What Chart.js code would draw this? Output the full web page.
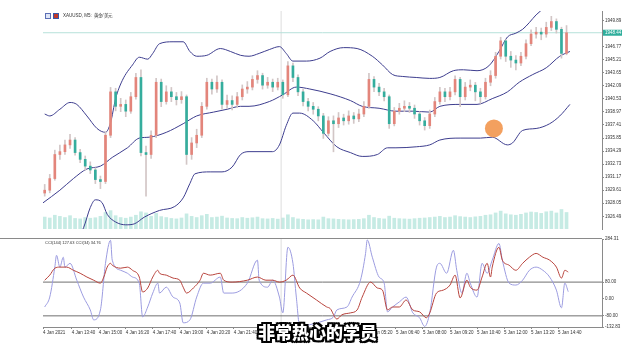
<!DOCTYPE html>
<html lang="zh-CN">
<head>
<meta charset="utf-8">
<title>XAUUSD, M5</title>
<script src="https://cdn.jsdelivr.net/npm/chart.js@4.4.1/dist/chart.umd.min.js"></script>
<style>
    html, body { margin: 0; padding: 0; background: #ffffff; }
    body { position: relative; width: 640px; height: 360px; overflow: hidden; font-family: "Liberation Sans", Arial, sans-serif; }
    .panel { position: absolute; left: 0; width: 640px; }
    #panelPrecio { top: 0; height: 238px; }
    #panelCci { top: 228px; height: 132px; }
    #titulo { position: absolute; left: 45px; top: 13px; font-size: 4.5px; line-height: 6px; color: #333; display: flex; align-items: center; gap: 2px; white-space: nowrap; }
    .icono { display: inline-block; width: 4px; height: 4px; border: 1px solid #5b6fb5; background: #dfe6f7; }
    .icono.rojo { background: #c0392b; border-color: #3b57a6; margin-right: 2px; }
    #tituloCci { position: absolute; left: 45px; top: 240px; font-size: 4px; line-height: 5px; color: #333; white-space: nowrap; }
    #subtitulo {
        position: absolute; left: 258px; top: 322px;
        font-family: "Noto Sans CJK SC", sans-serif; font-weight: 900; font-size: 17px; line-height: 20px;
        color: #ffffff; white-space: nowrap;
        text-shadow: -2px -2px 0 #000, 2px -2px 0 #000, -2px 2px 0 #000, 2px 2px 0 #000,
                     0 -2px 0 #000, 0 2px 0 #000, -2px 0 0 #000, 2px 0 0 #000;
    }
</style>
</head>
<body>
<div class="panel" id="panelPrecio"><canvas id="graficoPrecio"></canvas></div>
<div class="panel" id="panelCci"><canvas id="graficoCci"></canvas></div>
<div id="titulo"><span class="icono"></span><span class="icono rojo"></span><span>XAUUSD, M5:&nbsp;&nbsp;黄金/美元</span></div>
<div id="tituloCci">CCI(144) 127.63 CCI(34) 34.76</div>
<div id="subtitulo">非常热心的学员</div>
<script>
// velas de 15 minutos (3 barras M5 cada una), apertura = cierre anterior
const aperturaInicial = 1929.27;

const cierres = [
    1929.61, 1931.00, 1933.88, 1934.22, 1935.03, 1935.61, 1934.11, 1933.30, 1932.49, 1932.03,
    1930.88, 1930.65, 1936.18, 1941.37, 1939.64, 1939.87, 1939.06, 1940.79, 1943.09, 1934.11,
    1933.88, 1936.18, 1942.52, 1940.21, 1941.37, 1940.79, 1940.44, 1940.79, 1933.88, 1935.26,
    1936.18, 1939.64, 1942.52, 1941.71, 1942.52, 1939.87, 1940.33, 1939.87, 1940.79, 1941.71,
    1941.94, 1942.86, 1943.32, 1942.17, 1942.52, 1941.94, 1942.52, 1941.02, 1944.48, 1943.09,
    1941.37, 1940.21, 1939.64, 1939.29, 1938.49, 1936.41, 1937.91, 1937.56, 1938.25, 1937.91,
    1938.49, 1938.14, 1938.72, 1939.64, 1942.86, 1941.94, 1941.37, 1940.79, 1937.56, 1939.06,
    1939.41, 1939.64, 1939.41, 1938.72, 1937.91, 1937.33, 1938.72, 1940.21, 1941.37, 1940.79,
    1941.37, 1942.86, 1940.79, 1941.94, 1942.17, 1941.37, 1940.79, 1942.52, 1943.32, 1945.63,
    1947.47, 1945.63, 1945.17, 1944.82, 1945.63, 1947.13, 1948.28, 1948.51, 1948.28, 1949.08,
    1949.78, 1948.85, 1945.97, 1948.44
];

const maximos = [
    1930.3, 1931.5, 1934.4, 1935.0, 1935.6, 1936.3, 1935.9, 1934.5, 1933.7, 1933.0,
    1932.3, 1931.3, 1936.6, 1941.9, 1941.8, 1940.6, 1940.4, 1941.3, 1943.6, 1944.0,
    1934.9, 1936.7, 1943.0, 1942.9, 1942.1, 1941.9, 1941.3, 1941.4, 1941.0, 1935.9,
    1936.9, 1940.1, 1943.0, 1942.9, 1943.3, 1942.8, 1941.0, 1940.9, 1941.3, 1942.2,
    1942.6, 1943.3, 1943.9, 1943.6, 1943.1, 1942.9, 1943.0, 1942.8, 1945.0, 1944.8,
    1943.4, 1941.7, 1940.6, 1940.1, 1939.6, 1938.8, 1938.4, 1938.5, 1938.9, 1938.7,
    1939.1, 1938.9, 1939.3, 1940.2, 1943.6, 1943.2, 1942.4, 1941.8, 1941.0, 1939.5,
    1940.0, 1940.3, 1940.1, 1939.8, 1939.0, 1938.3, 1939.2, 1940.7, 1941.9, 1941.8,
    1941.9, 1943.3, 1943.1, 1942.5, 1942.8, 1942.5, 1941.8, 1943.0, 1943.9, 1946.1,
    1947.9, 1947.6, 1946.2, 1945.7, 1946.1, 1947.6, 1948.8, 1949.1, 1949.0, 1949.7,
    1950.4, 1950.1, 1949.1, 1949.3
];

const minimos = [
    1928.9, 1929.3, 1930.8, 1933.3, 1933.9, 1934.6, 1933.8, 1932.9, 1932.0, 1931.6,
    1930.4, 1929.8, 1930.4, 1935.9, 1939.1, 1939.0, 1938.4, 1938.8, 1940.5, 1933.7,
    1928.9, 1933.4, 1935.9, 1939.6, 1939.9, 1940.2, 1939.8, 1940.0, 1932.7, 1933.3,
    1934.7, 1935.9, 1939.3, 1941.1, 1941.3, 1939.3, 1939.4, 1939.2, 1939.5, 1940.4,
    1941.2, 1941.6, 1942.4, 1941.7, 1941.8, 1941.4, 1941.6, 1940.6, 1940.8, 1942.6,
    1940.9, 1939.7, 1939.1, 1938.7, 1937.9, 1935.8, 1936.1, 1934.2, 1937.1, 1937.4,
    1937.5, 1937.6, 1937.8, 1938.4, 1939.4, 1941.4, 1940.9, 1940.3, 1937.0, 1937.3,
    1938.7, 1939.0, 1938.9, 1938.2, 1937.4, 1936.8, 1937.0, 1938.4, 1939.9, 1940.2,
    1940.4, 1941.0, 1939.6, 1940.4, 1941.5, 1940.3, 1940.0, 1940.5, 1942.1, 1943.0,
    1945.3, 1945.0, 1944.3, 1944.0, 1944.5, 1945.3, 1946.9, 1947.8, 1947.6, 1947.9,
    1948.7, 1948.4, 1945.4, 1945.8
];

const volumenes = [
    52, 48, 60, 55, 50, 58, 46, 44, 50, 47,
    49, 55, 72, 80, 58, 50, 47, 52, 60, 75,
    70, 55, 68, 54, 50, 46, 44, 48, 66, 55,
    50, 58, 64, 50, 52, 56, 48, 46, 45, 50,
    47, 49, 52, 45, 44, 46, 43, 48, 62, 50,
    44, 42, 40, 41, 40, 52, 45, 44, 42, 41,
    40, 41, 42, 45, 60, 50, 46, 44, 56, 47,
    45, 44, 43, 45, 47, 48, 50, 52, 55, 50,
    52, 58, 54, 52, 50, 53, 55, 60, 62, 70,
    78, 66, 62, 60, 64, 70, 74, 72, 68, 75,
    78, 70, 85, 72
];

// Bandas de Bollinger (tiempo en barras M5)
const tiemposBandaSuperior = [1, 4, 10, 16, 20, 26, 32, 37, 40, 43, 47, 53, 57, 62, 65, 69, 77, 83, 87, 91, 97, 105, 111, 117, 122, 128, 134, 140, 144, 148, 156, 164, 170, 178, 186, 195, 201, 207, 213, 221, 229, 235, 243, 249, 257, 264, 270, 275, 280, 284, 288, 292, 297, 303, 311];
const bandaSuperior = [1938.72, 1938.49, 1939.29, 1940.10, 1939.87, 1938.49, 1936.99, 1936.53, 1937.68, 1940.56, 1942.75, 1944.59, 1945.51, 1945.28, 1945.97, 1947.13, 1947.36, 1947.36, 1946.20, 1945.63, 1945.74, 1946.55, 1946.20, 1945.74, 1945.63, 1945.97, 1946.43, 1946.78, 1945.97, 1945.05, 1945.05, 1945.40, 1946.20, 1946.66, 1946.55, 1945.63, 1944.59, 1943.44, 1943.21, 1943.09, 1942.98, 1943.09, 1943.90, 1944.01, 1943.90, 1944.48, 1946.20, 1947.93, 1948.39, 1948.85, 1949.66, 1950.58, 1951.39, 1951.96, 1952.50];

const tiemposBandaMedia = [0, 10, 18, 26, 34, 41, 50, 57, 63, 73, 83, 91, 101, 109, 117, 122, 134, 142, 150, 158, 170, 182, 189, 199, 209, 219, 229, 235, 247, 257, 266, 275, 282, 290, 298, 306, 312];
const bandaMedia = [1928.10, 1929.61, 1931.00, 1932.15, 1932.49, 1933.53, 1934.68, 1935.84, 1935.95, 1936.53, 1937.56, 1938.49, 1938.95, 1939.29, 1939.64, 1939.64, 1940.21, 1941.02, 1941.94, 1941.71, 1941.14, 1940.33, 1939.64, 1939.41, 1939.06, 1939.06, 1938.95, 1939.64, 1939.87, 1939.87, 1940.56, 1941.37, 1942.52, 1943.44, 1944.25, 1945.63, 1946.20];

const tiemposBandaInferior = [0, 19, 24, 28, 31, 35, 38, 43, 49, 54, 60, 69, 78, 83, 87, 90, 99, 106, 112, 117, 122, 136, 140, 144, 148, 152, 160, 166, 174, 182, 189, 198, 204, 209, 221, 229, 235, 247, 259, 266, 275, 278, 284, 292, 300, 306, 312];
const bandaInferior = [1922.36, 1923.51, 1925.12, 1927.54, 1928.46, 1928.12, 1926.73, 1925.81, 1925.47, 1925.58, 1926.39, 1927.19, 1927.66, 1928.69, 1930.42, 1931.57, 1931.80, 1931.80, 1932.38, 1933.88, 1934.22, 1934.22, 1935.03, 1937.33, 1938.83, 1938.83, 1937.91, 1936.53, 1934.80, 1934.11, 1933.65, 1933.88, 1934.68, 1934.68, 1934.80, 1935.03, 1935.61, 1935.84, 1935.84, 1935.95, 1935.03, 1935.26, 1936.76, 1936.99, 1937.56, 1938.49, 1939.87];

// CCI
const tiemposCci144 = [1, 4, 7, 10, 14, 18, 22, 26, 30, 34, 36, 38, 40, 41, 46, 50, 53, 57, 59, 62, 65, 68, 69, 73, 77, 81, 83, 85, 89, 93, 95, 99, 105, 107, 112, 121, 127, 132, 136, 140, 144, 148, 152, 156, 162, 168, 170, 174, 177, 182, 186, 189, 194, 198, 201, 204, 207, 211, 215, 219, 223, 227, 229, 233, 237, 241, 244, 247, 251, 253, 257, 260, 263, 265, 266, 270, 272, 276, 280, 284, 288, 292, 296, 300, 304, 307, 309, 311];
const cci144 = [89, 113, 146, 151, 151, 136, 122, 104, 89, 75, 104, 151, 169, 160, 146, 151, 136, 104, 33, 52, 104, 136, 122, 113, 99, 89, 56, 28, 52, 89, 122, 113, 122, 89, 80, 89, 104, 89, 89, 80, 89, 113, 52, 28, -5, -38, -45, -95, -75, -66, -52, 9, 80, 52, 42, -52, -38, -38, -5, -52, -61, -89, -66, 28, 42, 66, 113, 5, 89, 56, 42, 104, 169, 104, 151, 245, 184, 160, 136, 169, 198, 216, 198, 184, 151, 99, 136, 127.63];

const tiemposCci34 = [1, 4, 7, 8, 10, 12, 13, 16, 20, 24, 28, 30, 34, 37, 40, 41, 46, 50, 53, 57, 59, 62, 65, 68, 69, 73, 77, 81, 83, 87, 91, 95, 99, 105, 107, 112, 121, 127, 128, 133, 136, 140, 142, 145, 148, 150, 152, 158, 168, 172, 174, 180, 183, 188, 191, 192, 195, 199, 202, 204, 207, 211, 215, 219, 223, 226, 229, 233, 235, 239, 243, 245, 248, 251, 253, 257, 260, 263, 266, 270, 272, 276, 280, 284, 288, 292, 296, 300, 304, 307, 309, 311];
const cci34 = [-38, 9, 151, 207, 151, 198, 151, 169, 89, 9, -52, -99, -52, 169, 278, 184, 136, 122, 104, 75, -85, -38, 28, 75, 28, 56, 9, -19, -113, -99, 9, 75, 75, 104, 28, 28, 75, 184, 89, 56, 89, 9, -66, 245, 169, 9, -128, -122, -99, -85, -52, -38, 9, 89, 216, 280, 198, 104, 75, -61, -38, -14, 9, -66, -89, -130, -66, 151, 169, 122, 231, 136, 28, 122, 75, 9, 169, 122, 184, 263, 184, 75, 66, 89, 136, 151, 136, 104, 42, -42, 75, 34.76];

const nivelesCci = [80, -80];

// ejes
const etiquetasPrecio = [1949.89, 1948.33, 1946.77, 1945.21, 1943.65, 1942.09, 1940.53, 1938.97, 1937.41, 1935.85, 1934.29, 1932.73, 1931.17, 1929.61, 1928.05, 1926.49];
const etiquetasCci = [284.31, 80, 0, -80, -132.83];
const indicesTiempo = [0, 17, 33, 49, 65, 81, 97, 113, 129, 145, 161, 177, 193, 209, 225, 241, 257, 273, 289, 305];
const etiquetasTiempo = ["4 Jan 2021", "4 Jan 13:40", "4 Jan 15:00", "4 Jan 16:20", "4 Jan 17:40", "4 Jan 19:00", "4 Jan 20:20", "4 Jan 21:40", "4 Jan 23:00", "5 Jan 01:20", "5 Jan 02:40", "5 Jan 04:00", "5 Jan 05:20", "5 Jan 06:40", "5 Jan 08:00", "5 Jan 09:20", "5 Jan 10:40", "5 Jan 12:00", "5 Jan 13:20", "5 Jan 14:40"];

const precioMin = 1924.97;
const precioMax = 1951.04;
const precioActual = 1948.44;
const volumenMax = 950;
const cciMin = -132.83;
const cciMax = 284.31;
const ultimoTiempo = 331;
const separadorDia = 141;

const marcaTiempo = [267];
const marcaPrecio = [1936.99];

const COLOR_SUBE = "#e3857b";
const COLOR_BAJA = "#35ad9d";
const COLOR_BANDA = "#3d3d8e";
const COLOR_TEXTO = "#333333";
const FUENTE_EJE = { family: "Liberation Sans", size: 4.5 };

function serieLinea(tiempos, valores) {
    return tiempos.map((tiempo, i) => ({ x: tiempo, y: valores[i] }));
}

function lineaHorizontal(valor) {
    return [{ x: 0, y: valor }, { x: ultimoTiempo, y: valor }];
}

function crearVelas() {
    return cierres.map((cierre, i) => ({
        tiempo: i * 3 + 1,
        apertura: i === 0 ? aperturaInicial : cierres[i - 1],
        cierre: cierre,
        maximo: maximos[i],
        minimo: minimos[i],
        volumen: volumenes[i]
    }));
}

const etiquetaPrecioActual = {
    id: "etiquetaPrecioActual",
    afterDraw(chart) {
        const { ctx, chartArea, scales } = chart;
        const y = scales.y.getPixelForValue(precioActual);
        ctx.save();
        ctx.fillStyle = "#2fae9c";
        ctx.fillRect(chartArea.right + 1, y - 3, 19, 6);
        ctx.fillStyle = "#ffffff";
        ctx.font = "4.5px 'Liberation Sans'";
        ctx.textBaseline = "middle";
        ctx.fillText(precioActual.toFixed(2), chartArea.right + 3, y + 0.5);
        ctx.restore();
    }
};

const bordeSuperior = {
    id: "bordeSuperior",
    afterDraw(chart) {
        const { ctx, chartArea } = chart;
        ctx.save();
        ctx.strokeStyle = "#8a8a8a";
        ctx.lineWidth = 1;
        ctx.beginPath();
        ctx.moveTo(0, Math.round(chartArea.top) - 0.5);
        ctx.lineTo(chartArea.right, Math.round(chartArea.top) - 0.5);
        ctx.stroke();
        ctx.restore();
    }
};

function crearGraficoPrecio(velas) {
    const estiloBanda = {
        type: "line",
        borderColor: COLOR_BANDA,
        borderWidth: 1,
        pointRadius: 0,
        cubicInterpolationMode: "monotone",
        order: 3
    };

    new Chart(document.getElementById("graficoPrecio"), {
        type: "bar",
        data: {
            datasets: [
                {
                    type: "scatter",
                    label: "Marca",
                    data: serieLinea(marcaTiempo, marcaPrecio),
                    backgroundColor: "#f3a05f",
                    borderWidth: 0,
                    pointRadius: 9,
                    order: 0
                },
                {
                    label: "Cuerpos",
                    data: velas.map(v => ({ x: v.tiempo, y: [v.apertura, v.cierre] })),
                    backgroundColor: velas.map(v => v.cierre >= v.apertura ? COLOR_SUBE : COLOR_BAJA),
                    barThickness: 2,
                    grouped: false,
                    order: 1
                },
                {
                    label: "Mechas",
                    data: velas.map(v => ({ x: v.tiempo, y: [v.minimo, v.maximo] })),
                    backgroundColor: "#d2c6c6",
                    barThickness: 1,
                    grouped: false,
                    order: 2
                },
                { ...estiloBanda, label: "Banda superior", data: serieLinea(tiemposBandaSuperior, bandaSuperior) },
                { ...estiloBanda, label: "Banda media", data: serieLinea(tiemposBandaMedia, bandaMedia) },
                { ...estiloBanda, label: "Banda inferior", data: serieLinea(tiemposBandaInferior, bandaInferior) },
                {
                    type: "line",
                    label: "Precio actual",
                    data: lineaHorizontal(precioActual),
                    borderColor: "#b6e1da",
                    borderWidth: 1,
                    pointRadius: 0,
                    order: 6
                },
                {
                    type: "line",
                    label: "Separador",
                    data: [{ x: separadorDia, y: precioMin }, { x: separadorDia, y: precioMax }],
                    borderColor: "#dddddd",
                    borderWidth: 1,
                    pointRadius: 0,
                    order: 7
                },
                {
                    label: "Volumen",
                    data: velas.map(v => ({ x: v.tiempo, y: v.volumen })),
                    yAxisID: "yVol",
                    backgroundColor: "#c6ebe4",
                    barThickness: 3,
                    grouped: false,
                    order: 8
                }
            ]
        },
        options: {
            responsive: true,
            maintainAspectRatio: false,
            animation: false,
            events: [],
            layout: { padding: { left: 43, right: 0, top: 11, bottom: 1 } },
            plugins: { legend: { display: false }, tooltip: { enabled: false } },
            scales: {
                x: { type: "linear", min: 0, max: ultimoTiempo, offset: false, display: false },
                y: {
                    position: "right",
                    min: precioMin,
                    max: precioMax,
                    afterBuildTicks: escala => { escala.ticks = etiquetasPrecio.map(v => ({ value: v })); },
                    afterFit: escala => { escala.width = 38; },
                    ticks: {
                        autoSkip: false,
                        font: FUENTE_EJE,
                        color: COLOR_TEXTO,
                        padding: 1,
                        callback: valor => Number(valor).toFixed(2)
                    },
                    grid: { drawOnChartArea: false, tickLength: 2, color: "#8a8a8a" },
                    border: { display: true, color: "#8a8a8a" }
                },
                yVol: { display: false, min: 0, max: volumenMax }
            }
        },
        plugins: [etiquetaPrecioActual]
    });
}

function crearGraficoCci() {
    const estiloCci = {
        borderWidth: 1,
        pointRadius: 0,
        cubicInterpolationMode: "monotone"
    };

    new Chart(document.getElementById("graficoCci"), {
        type: "line",
        data: {
            datasets: [
                { ...estiloCci, label: "CCI(144)", data: serieLinea(tiemposCci144, cci144), borderColor: "#b8433c", order: 1 },
                { ...estiloCci, label: "CCI(34)", data: serieLinea(tiemposCci34, cci34), borderColor: "#9c9ce0", order: 2 },
                ...nivelesCci.map(nivel => ({
                    label: `Nivel ${nivel}`,
                    data: lineaHorizontal(nivel),
                    borderColor: "#707070",
                    borderWidth: 1,
                    pointRadius: 0,
                    order: 3
                })),
                {
                    label: "Separador",
                    data: [{ x: separadorDia, y: cciMin }, { x: separadorDia, y: cciMax }],
                    borderColor: "#dddddd",
                    borderWidth: 1,
                    pointRadius: 0,
                    order: 4
                }
            ]
        },
        options: {
            responsive: true,
            maintainAspectRatio: false,
            animation: false,
            events: [],
            layout: { padding: { left: 43, right: 0, top: 11, bottom: 23 } },
            plugins: { legend: { display: false }, tooltip: { enabled: false } },
            scales: {
                x: {
                    type: "linear",
                    min: 0,
                    max: ultimoTiempo,
                    afterBuildTicks: escala => { escala.ticks = indicesTiempo.map(v => ({ value: v })); },
                    afterFit: escala => { escala.height = 10; },
                    ticks: {
                        autoSkip: false,
                        maxRotation: 0,
                        align: "start",
                        font: FUENTE_EJE,
                        color: COLOR_TEXTO,
                        padding: 1,
                        callback: (valor, indice) => etiquetasTiempo[indice]
                    },
                    grid: { drawOnChartArea: false, tickLength: 2, color: "#8a8a8a" },
                    border: { display: true, color: "#8a8a8a" }
                },
                y: {
                    position: "right",
                    min: cciMin,
                    max: cciMax,
                    afterBuildTicks: escala => { escala.ticks = etiquetasCci.map(v => ({ value: v })); },
                    afterFit: escala => { escala.width = 38; },
                    ticks: {
                        autoSkip: false,
                        font: FUENTE_EJE,
                        color: COLOR_TEXTO,
                        padding: 1,
                        callback: valor => Number(valor).toFixed(2)
                    },
                    grid: { drawOnChartArea: false, tickLength: 2, color: "#8a8a8a" },
                    border: { display: true, color: "#8a8a8a" }
                }
            }
        },
        plugins: [bordeSuperior]
    });
}

const velas = crearVelas();
crearGraficoPrecio(velas);
crearGraficoCci();
</script>
</body>
</html>
